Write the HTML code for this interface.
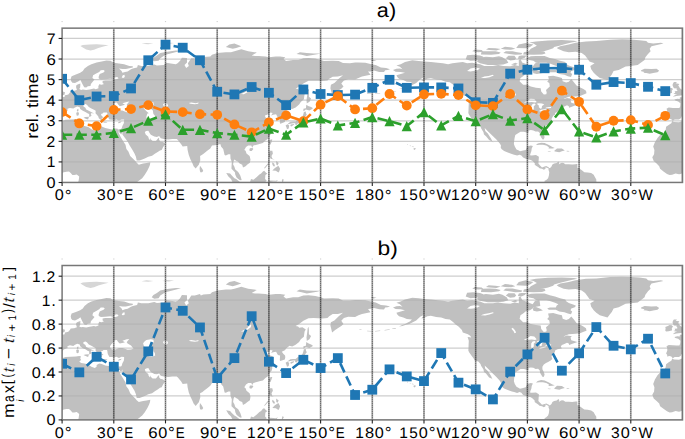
<!DOCTYPE html><html><head><meta charset="utf-8"><style>html,body{margin:0;padding:0;background:#fff;}svg{display:block;} text{text-rendering:geometricPrecision;}</style></head><body><svg width="685" height="439" viewBox="0 0 685 439"><rect width="685" height="439" fill="#fff"/><defs><g id="map"><path fill="#c0c0c0" d="M16.0 159.4L16.0 154.3L16.5 152.6L16.9 150.0L17.1 148.3L15.9 147.4L14.6 146.4L12.1 146.8L10.3 146.9L8.6 144.9L6.9 143.3L4.3 143.5L1.7 144.0L-1.7 145.7L-3.4 146.1L-6.9 145.4L-10.3 146.6L-12.9 146.8L-15.5 145.7L-19.0 143.2L-22.4 140.6L-23.3 138.0L-25.8 135.4L-28.8 132.9L-30.2 129.1L-28.4 126.0L-28.1 121.7L-29.3 118.3L-27.6 114.0L-25.0 109.7L-22.4 106.8L-19.0 105.4L-16.9 102.0L-16.4 98.6L-13.8 96.7L-11.2 95.1L-10.2 92.9L-8.6 93.8L-3.4 94.1L0.0 92.7L3.4 91.5L8.6 91.2L13.8 91.0L17.2 90.3L19.0 90.9L18.1 92.6L19.0 94.3L17.2 96.0L19.0 97.4L22.4 97.9L26.2 98.9L29.3 101.1L32.7 102.3L34.5 101.1L34.5 99.4L37.1 97.9L39.6 98.4L43.1 99.8L46.5 100.5L50.0 101.3L53.4 100.3L55.7 100.6L56.0 102.9L56.9 105.4L58.6 108.9L61.2 113.2L63.4 116.6L64.3 120.9L66.3 123.4L68.1 127.7L70.7 130.3L73.2 132.9L74.6 134.6L76.7 136.5L81.0 135.3L84.4 134.9L88.2 134.1L87.9 136.5L87.0 138.9L85.3 142.3L82.7 146.6L80.1 150.0L76.7 152.6L73.2 155.2L72.4 159.4ZM636.4 159.4L636.4 154.3L636.9 152.6L637.3 150.0L637.4 148.3L636.2 147.4L635.0 146.4L632.5 146.8L630.7 146.9L629.0 144.9L627.3 143.3L624.7 143.5L622.1 144.0L618.7 145.7L616.9 146.1L613.5 145.4L610.0 146.6L607.5 146.8L604.9 145.7L601.4 143.2L598.0 140.6L597.1 138.0L594.5 135.4L591.6 132.9L590.2 129.1L592.0 126.0L592.3 121.7L591.1 118.3L592.8 114.0L595.4 109.7L598.0 106.8L601.4 105.4L603.5 102.0L604.0 98.6L606.6 96.7L609.2 95.1L610.2 92.9L611.8 93.8L616.9 94.1L620.4 92.7L623.8 91.5L629.0 91.2L634.2 91.0L637.6 90.3L639.3 90.9L638.5 92.6L639.3 94.3L637.6 96.0L639.3 97.4L642.8 97.9L646.6 98.9L649.7 101.1L653.1 102.3L654.9 101.1L654.9 99.4L657.4 97.9L660.0 98.4L663.5 99.8L666.9 100.5L670.4 101.3L673.8 100.3L676.1 100.6L676.4 102.9L677.3 105.4L679.0 108.9L681.6 113.2L683.8 116.6L684.7 120.9L686.7 123.4L688.5 127.7L691.0 130.3L693.6 132.9L695.0 134.6L697.1 136.5L701.4 135.3L704.8 134.9L708.6 134.1L708.3 136.5L707.4 138.9L705.7 142.3L703.1 146.6L700.5 150.0L697.1 152.6L693.6 155.2L692.8 159.4ZM56.0 102.9L59.1 106.3L60.3 103.7L60.3 106.3L62.9 109.7L65.5 113.2L67.6 117.4L69.8 120.9L72.4 125.2L73.8 128.6L74.6 132.4L77.5 132.4L82.7 130.3L86.2 128.6L90.0 127.6L93.1 125.3L95.6 123.8L97.9 122.2L99.6 121.7L100.8 119.2L103.1 115.7L101.0 113.8L98.2 113.2L97.0 111.6L97.0 109.4L95.6 110.6L93.9 112.8L90.5 112.8L88.9 111.4L88.7 109.6L87.9 112.0L86.5 110.1L86.2 108.5L83.6 106.3L82.7 103.7L84.1 102.9L86.2 102.5L87.5 104.7L88.7 106.5L92.2 108.4L94.8 108.7L97.0 107.8L98.7 110.1L101.7 110.8L106.0 111.3L110.3 110.9L114.6 110.8L115.8 111.8L117.2 113.7L118.9 115.7L120.6 118.3L125.1 117.8L125.5 121.7L126.7 126.9L128.4 131.2L130.1 134.6L131.5 138.0L133.6 140.4L134.8 138.9L136.7 136.6L138.2 132.0L138.0 127.7L140.4 126.4L141.8 125.2L144.8 122.9L148.2 120.2L149.9 117.4L152.5 117.1L155.1 116.8L158.2 115.9L159.1 118.6L161.1 120.9L162.5 126.9L163.7 127.2L166.3 126.0L168.2 126.0L168.4 130.3L169.7 133.7L169.4 138.9L169.4 140.6L172.8 144.0L173.2 146.6L174.6 149.5L177.5 151.7L178.9 152.1L179.6 151.7L178.2 147.4L176.1 143.7L173.2 141.4L172.2 138.4L171.0 136.3L171.5 132.9L172.5 131.2L173.9 132.5L175.8 133.4L177.5 135.4L180.1 136.5L180.9 139.4L183.5 138.0L185.3 136.3L187.8 134.6L188.4 131.2L187.5 127.7L184.4 125.2L183.5 122.6L182.2 121.7L183.9 118.8L186.1 117.4L189.2 117.4L190.1 119.5L191.3 117.4L195.6 116.2L197.3 115.7L200.8 114.9L203.3 112.3L205.9 110.6L206.8 108.0L209.4 105.4L210.2 102.9L209.9 100.3L208.2 98.6L207.7 96.0L205.6 94.3L207.7 92.6L211.1 90.9L208.5 89.8L205.1 90.5L203.3 89.1L202.8 87.4L205.1 86.6L208.5 84.3L210.6 84.9L209.0 87.4L211.1 86.6L214.0 86.1L215.8 89.5L218.0 90.0L217.7 94.3L218.0 95.5L219.7 95.0L222.7 93.9L223.2 91.7L223.0 90.0L221.4 88.3L219.7 86.1L223.2 84.3L223.7 83.1L225.2 81.8L227.5 80.2L230.1 80.9L233.5 79.2L237.0 76.3L238.7 73.7L241.8 71.1L242.1 68.6L242.5 66.0L243.7 63.8L240.4 61.7L237.0 62.1L236.1 60.9L233.5 60.5L237.0 58.3L241.3 55.2L246.4 52.6L251.6 52.5L255.9 52.6L260.2 52.8L265.4 52.3L267.1 50.6L270.6 48.5L275.7 48.3L280.9 47.1L276.6 50.6L272.3 54.9L268.8 56.6L268.3 60.0L269.4 64.3L270.0 66.9L273.1 64.3L275.7 62.6L279.2 60.5L281.4 58.3L279.2 55.2L281.8 52.3L286.1 51.1L293.0 51.4L296.4 49.7L299.9 48.3L305.9 47.1L308.5 46.6L305.9 43.4L308.5 43.2L311.9 42.3L317.1 43.7L321.9 43.9L323.1 42.0L325.7 41.7L327.9 41.0L324.0 39.8L318.8 39.4L313.6 36.9L310.2 36.2L303.3 34.6L296.4 34.3L293.0 34.3L287.8 35.0L280.9 34.8L276.6 32.9L270.6 32.6L261.9 32.9L258.5 31.7L253.3 30.3L246.4 29.7L241.3 30.0L236.1 31.7L230.9 31.7L224.0 32.9L221.4 30.9L223.2 29.1L218.0 28.3L213.7 28.3L206.8 29.1L203.3 28.3L196.5 27.9L193.0 27.8L189.6 27.4L194.7 24.3L186.1 23.1L179.2 21.1L172.3 23.1L168.9 24.0L163.7 24.0L155.1 24.9L149.9 26.6L148.2 28.3L141.3 28.8L138.7 30.0L137.9 28.3L132.7 30.0L129.2 30.0L127.5 32.6L125.8 35.1L126.7 37.7L124.1 39.8L122.4 36.9L124.9 34.3L124.9 29.7L119.8 29.5L118.0 32.6L115.5 35.1L113.7 36.0L110.3 35.5L104.3 34.6L101.7 36.9L94.8 37.4L92.2 36.3L86.2 37.7L79.3 37.7L75.8 36.9L75.0 39.4L70.7 40.3L68.9 41.1L65.5 43.2L62.9 43.7L60.3 44.6L59.5 42.9L56.9 40.3L60.3 40.8L63.8 40.8L70.7 39.4L70.7 38.1L67.2 37.7L62.0 36.0L56.9 35.3L51.7 34.6L48.3 32.6L44.3 32.4L39.6 33.4L34.5 34.3L29.3 36.0L25.8 37.7L22.4 40.3L20.7 42.9L18.1 44.6L13.8 46.3L9.5 48.0L8.6 50.6L9.1 53.1L10.3 54.5L12.9 54.9L16.4 53.1L18.3 51.6L19.0 53.1L19.8 54.9L20.7 56.6L22.1 59.0L24.1 59.3L25.8 58.1L28.4 57.8L28.8 55.7L31.0 53.1L32.4 51.4L30.3 49.7L31.0 47.1L34.1 45.4L37.1 43.7L38.6 42.0L41.4 41.8L42.7 42.9L41.4 44.2L37.6 45.9L36.5 48.9L36.7 50.4L38.8 51.4L43.1 51.1L48.3 50.6L52.2 51.6L48.3 52.3L43.1 52.3L40.5 52.8L40.5 54.9L41.9 55.7L39.6 56.6L37.1 56.1L36.2 58.3L36.4 60.0L33.6 61.0L31.9 60.3L27.6 61.2L24.1 61.9L20.7 61.4L19.0 61.7L17.2 60.9L18.1 59.1L18.3 55.4L15.5 56.4L14.1 57.4L14.0 59.1L14.8 61.7L12.1 62.6L8.6 62.9L7.8 64.3L6.2 66.2L4.3 66.7L2.8 67.0L2.6 68.6L0.3 69.1L-2.6 69.1L-2.8 70.8L-5.2 70.6L-8.1 71.3L-7.2 72.3L-4.3 73.2L-2.1 75.1L-2.2 78.0L-3.1 79.9L-6.0 79.9L-9.5 79.7L-13.8 79.4L-16.0 80.6L-15.3 82.3L-15.2 84.9L-16.4 87.9L-15.2 89.3L-15.5 90.9L-12.9 90.5L-11.2 91.0L-9.7 92.6L-7.8 91.4L-3.4 91.4L-1.4 89.8L-0.9 88.3L0.3 87.8L-0.5 86.6L1.6 84.0L5.5 82.5L5.3 80.6L7.8 79.7L11.2 80.4L12.9 79.2L15.2 78.2L17.6 79.0L18.1 80.7L20.7 82.6L23.3 83.7L25.8 85.4L27.1 85.7L27.1 88.8L28.4 88.3L29.5 87.4L28.6 85.7L29.6 84.9L31.9 85.5L31.0 84.7L27.6 83.1L24.1 81.4L23.3 79.5L21.2 78.0L21.4 76.5L23.6 75.9L25.0 76.8L26.7 78.9L29.3 80.2L31.9 81.6L33.6 82.6L33.4 85.0L34.8 86.6L36.2 88.3L36.7 90.0L38.8 91.9L40.0 91.7L39.6 90.0L41.4 89.1L39.6 87.8L38.9 85.7L40.5 85.4L41.4 84.3L44.8 84.3L45.3 85.5L47.4 84.9L50.0 83.7L48.3 82.3L47.9 80.6L49.1 78.9L50.8 77.1L52.6 74.6L54.8 74.4L56.0 76.3L57.7 78.0L61.2 77.1L62.9 76.6L60.3 75.1L64.6 73.7L67.2 73.4L65.5 75.4L64.6 76.6L65.5 78.0L68.9 79.9L71.5 83.1L68.9 84.0L65.5 84.2L62.0 83.0L60.3 82.3L56.9 82.3L53.4 83.8L50.0 84.0L46.5 85.0L45.2 85.7L45.7 88.3L46.5 90.0L47.4 91.4L50.0 91.5L52.6 91.7L54.3 91.2L56.9 92.4L59.5 91.2L62.0 91.4L62.0 92.9L61.7 95.1L60.3 97.7L59.5 100.3L58.6 100.8L56.2 101.0ZM676.4 102.9L679.5 106.3L680.7 103.7L680.7 106.3L683.3 109.7L685.9 113.2L687.9 117.4L690.2 120.9L692.8 125.2L694.1 128.6L695.0 132.4L697.9 132.4L703.1 130.3L706.6 128.6L710.3 127.6L713.4 125.3L716.0 123.8L718.3 122.2L720.0 121.7L721.2 119.2L723.4 115.7L721.4 113.8L718.6 113.2L717.4 111.6L717.4 109.4L716.0 110.6L714.3 112.8L710.9 112.8L709.3 111.4L709.1 109.6L708.3 112.0L706.9 110.1L706.6 108.5L704.0 106.3L703.1 103.7L704.5 102.9L706.6 102.5L707.9 104.7L709.1 106.5L712.6 108.4L715.2 108.7L717.4 107.8L719.1 110.1L722.1 110.8L726.4 111.3L730.7 110.9L735.0 110.8L736.2 111.8L737.6 113.7L739.3 115.7L741.0 118.3L745.5 117.8L745.8 121.7L747.1 126.9L748.8 131.2L750.5 134.6L751.9 138.0L753.9 140.4L755.2 138.9L757.0 136.6L758.6 132.0L758.4 127.7L760.8 126.4L762.2 125.2L765.1 122.9L768.6 120.2L770.3 117.4L772.9 117.1L775.5 116.8L778.6 115.9L779.4 118.6L781.5 120.9L782.9 126.9L784.1 127.2L786.7 126.0L788.6 126.0L788.8 130.3L790.1 133.7L789.8 138.9L789.8 140.6L793.2 144.0L793.6 146.6L795.0 149.5L797.9 151.7L799.3 152.1L800.0 151.7L798.6 147.4L796.5 143.7L793.6 141.4L792.5 138.4L791.3 136.3L791.9 132.9L792.9 131.2L794.3 132.5L796.2 133.4L797.9 135.4L800.5 136.5L801.3 139.4L803.9 138.0L805.6 136.3L808.2 134.6L808.7 131.2L807.9 127.7L804.8 125.2L803.9 122.6L802.5 121.7L804.3 118.8L806.5 117.4L809.6 117.4L810.5 119.5L811.7 117.4L816.0 116.2L817.7 115.7L821.2 114.9L823.7 112.3L826.3 110.6L827.2 108.0L829.8 105.4L830.6 102.9L830.3 100.3L828.6 98.6L828.0 96.0L826.0 94.3L828.0 92.6L831.5 90.9L828.9 89.8L825.5 90.5L823.7 89.1L823.2 87.4L825.5 86.6L828.9 84.3L831.0 84.9L829.4 87.4L831.5 86.6L834.4 86.1L836.1 89.5L838.4 90.0L838.0 94.3L838.4 95.5L840.1 95.0L843.0 93.9L843.6 91.7L843.4 90.0L841.8 88.3L840.1 86.1L843.6 84.3L844.1 83.1L845.6 81.8L847.9 80.2L850.4 80.9L853.9 79.2L857.3 76.3L859.1 73.7L862.2 71.1L862.5 68.6L862.9 66.0L864.1 63.8L860.8 61.7L857.3 62.1L856.5 60.9L853.9 60.5L857.3 58.3L861.6 55.2L866.8 52.6L872.0 52.5L876.3 52.6L880.6 52.8L885.8 52.3L887.5 50.6L890.9 48.5L896.1 48.3L901.3 47.1L897.0 50.6L892.7 54.9L889.2 56.6L888.7 60.0L889.7 64.3L890.4 66.9L893.5 64.3L896.1 62.6L899.6 60.5L901.8 58.3L899.6 55.2L902.1 52.3L906.5 51.1L913.3 51.4L916.8 49.7L920.2 48.3L926.3 47.1L928.9 46.6L926.3 43.4L928.9 43.2L932.3 42.3L937.5 43.7L942.3 43.9L943.5 42.0L946.1 41.7L948.3 41.0L944.4 39.8L939.2 39.4L934.0 36.9L930.6 36.2L923.7 34.6L916.8 34.3L913.3 34.3L908.2 35.0L901.3 34.8L897.0 32.9L890.9 32.6L882.3 32.9L878.9 31.7L873.7 30.3L866.8 29.7L861.6 30.0L856.5 31.7L851.3 31.7L844.4 32.9L841.8 30.9L843.6 29.1L838.4 28.3L834.1 28.3L827.2 29.1L823.7 28.3L816.8 27.9L813.4 27.8L810.0 27.4L815.1 24.3L806.5 23.1L799.6 21.1L792.7 23.1L789.3 24.0L784.1 24.0L775.5 24.9L770.3 26.6L768.6 28.3L761.7 28.8L759.1 30.0L758.3 28.3L753.1 30.0L749.6 30.0L747.9 32.6L746.2 35.1L747.1 37.7L744.5 39.8L742.7 36.9L745.3 34.3L745.3 29.7L740.2 29.5L738.4 32.6L735.8 35.1L734.1 36.0L730.7 35.5L724.6 34.6L722.1 36.9L715.2 37.4L712.6 36.3L706.6 37.7L699.7 37.7L696.2 36.9L695.4 39.4L691.0 40.3L689.3 41.1L685.9 43.2L683.3 43.7L680.7 44.6L679.8 42.9L677.3 40.3L680.7 40.8L684.2 40.8L691.0 39.4L691.0 38.1L687.6 37.7L682.4 36.0L677.3 35.3L672.1 34.6L668.6 32.6L664.7 32.4L660.0 33.4L654.9 34.3L649.7 36.0L646.2 37.7L642.8 40.3L641.1 42.9L638.5 44.6L634.2 46.3L629.9 48.0L629.0 50.6L629.5 53.1L630.7 54.5L633.3 54.9L636.8 53.1L638.7 51.6L639.3 53.1L640.2 54.9L641.1 56.6L642.4 59.0L644.5 59.3L646.2 58.1L648.8 57.8L649.2 55.7L651.4 53.1L652.8 51.4L650.7 49.7L651.4 47.1L654.5 45.4L657.4 43.7L659.0 42.0L661.7 41.8L663.1 42.9L661.7 44.2L658.0 45.9L656.9 48.9L657.1 50.4L659.2 51.4L663.5 51.1L668.6 50.6L672.6 51.6L668.6 52.3L663.5 52.3L660.9 52.8L660.9 54.9L662.3 55.7L660.0 56.6L657.4 56.1L656.6 58.3L656.7 60.0L654.0 61.0L652.3 60.3L648.0 61.2L644.5 61.9L641.1 61.4L639.3 61.7L637.6 60.9L638.5 59.1L638.7 55.4L635.9 56.4L634.5 57.4L634.3 59.1L635.2 61.7L632.5 62.6L629.0 62.9L628.1 64.3L626.6 66.2L624.7 66.7L623.1 67.0L623.0 68.6L620.7 69.1L617.8 69.1L617.6 70.8L615.2 70.6L612.3 71.3L613.2 72.3L616.1 73.2L618.3 75.1L618.1 78.0L617.3 79.9L614.4 79.9L610.9 79.7L606.6 79.4L604.4 80.6L605.1 82.3L605.2 84.9L604.0 87.9L605.2 89.3L604.9 90.9L607.5 90.5L609.2 91.0L610.7 92.6L612.6 91.4L616.9 91.4L619.0 89.8L619.5 88.3L620.7 87.8L619.9 86.6L621.9 84.0L625.9 82.5L625.7 80.6L628.1 79.7L631.6 80.4L633.3 79.2L635.6 78.2L638.0 79.0L638.5 80.7L641.1 82.6L643.7 83.7L646.2 85.4L647.4 85.7L647.4 88.8L648.8 88.3L649.9 87.4L649.0 85.7L650.0 84.9L652.3 85.5L651.4 84.7L648.0 83.1L644.5 81.4L643.7 79.5L641.6 78.0L641.8 76.5L644.0 75.9L645.4 76.8L647.1 78.9L649.7 80.2L652.3 81.6L654.0 82.6L653.8 85.0L655.2 86.6L656.6 88.3L657.1 90.0L659.2 91.9L660.4 91.7L660.0 90.0L661.7 89.1L660.0 87.8L659.3 85.7L660.9 85.4L661.7 84.3L665.2 84.3L665.7 85.5L667.8 84.9L670.4 83.7L668.6 82.3L668.3 80.6L669.5 78.9L671.2 77.1L672.9 74.6L675.2 74.4L676.4 76.3L678.1 78.0L681.6 77.1L683.3 76.6L680.7 75.1L685.0 73.7L687.6 73.4L685.9 75.4L685.0 76.6L685.9 78.0L689.3 79.9L691.9 83.1L689.3 84.0L685.9 84.2L682.4 83.0L680.7 82.3L677.3 82.3L673.8 83.8L670.4 84.0L666.9 85.0L665.5 85.7L666.1 88.3L666.9 90.0L667.8 91.4L670.4 91.5L672.9 91.7L674.7 91.2L677.3 92.4L679.8 91.2L682.4 91.4L682.4 92.9L682.1 95.1L680.7 97.7L679.8 100.3L679.0 100.8L676.6 101.0ZM481.7 159.4L482.4 154.3L482.5 152.6L484.2 151.7L486.0 150.0L486.8 147.4L487.2 144.0L486.3 141.4L487.0 139.7L488.0 139.7L489.4 138.4L490.3 136.3L492.0 135.4L494.6 134.9L496.3 133.4L497.2 134.6L496.7 136.3L498.0 135.4L499.8 134.6L501.5 134.8L503.2 136.1L506.7 136.1L510.1 136.3L513.5 136.0L515.3 137.2L515.3 139.7L516.1 139.7L518.7 141.4L520.4 142.6L522.2 144.0L525.6 144.2L529.1 144.9L531.6 146.6L532.5 148.3L534.2 151.2L534.2 153.4L535.9 155.2L537.7 159.4ZM487.0 140.8L486.0 140.1L483.4 139.0L483.4 140.6L481.8 141.6L479.9 140.6L477.4 140.1L476.1 138.9L473.9 137.5L472.5 136.3L472.7 135.1L470.5 132.9L468.7 131.7L466.2 131.2L463.6 130.5L461.0 129.4L459.3 127.2L457.5 126.5L455.0 127.4L452.0 126.5L449.8 125.8L446.3 124.6L442.0 122.9L439.4 120.9L438.6 119.2L438.9 117.4L437.7 115.2L434.3 111.4L431.7 108.9L429.1 106.3L426.5 103.7L422.6 99.8L423.1 102.9L425.7 105.4L427.4 108.0L429.1 110.6L430.0 112.8L431.7 114.9L430.0 113.2L427.0 111.8L423.9 108.0L421.9 106.3L421.3 103.7L419.1 100.3L418.4 98.4L416.2 96.0L412.6 95.0L411.9 93.3L409.3 90.0L407.0 86.6L406.2 84.9L406.4 82.3L406.5 78.9L406.7 75.1L405.5 71.3L408.4 71.7L409.3 72.9L408.4 70.3L405.8 68.6L400.7 66.9L399.8 64.3L396.4 60.9L393.8 59.1L391.2 56.6L387.7 54.0L383.4 53.5L379.1 51.8L374.0 51.4L368.8 50.1L365.3 50.6L361.9 52.3L359.3 52.8L361.9 49.4L358.4 50.9L355.9 53.1L354.1 54.9L350.7 56.6L347.2 58.3L343.8 59.1L340.4 60.3L336.9 60.9L339.5 59.7L342.9 58.3L348.1 55.7L349.8 53.8L344.7 53.5L341.2 51.8L336.9 50.6L335.2 48.9L334.3 47.1L336.9 46.3L342.9 44.6L338.6 43.7L333.5 43.5L330.9 41.8L334.3 40.6L337.8 40.3L340.4 41.1L337.8 38.6L334.3 37.2L338.6 36.0L342.9 33.8L350.2 32.1L356.7 32.7L361.9 33.4L368.8 33.9L375.7 34.6L380.8 35.1L386.0 36.0L390.3 35.1L396.4 34.3L400.7 33.8L405.0 35.1L410.1 34.6L417.9 36.0L422.2 37.7L430.8 37.7L436.0 36.9L441.2 37.7L448.1 38.1L452.4 36.9L456.7 37.7L456.7 31.7L458.4 30.9L460.1 34.3L465.3 36.3L470.5 38.6L473.0 35.1L477.4 34.3L478.2 40.3L473.9 41.1L470.5 42.9L467.9 44.6L464.1 45.4L461.0 48.0L458.4 49.7L457.5 53.1L461.0 56.6L465.3 56.6L468.7 58.3L473.9 59.5L478.6 60.0L479.1 63.4L481.7 66.3L484.2 66.0L484.6 64.3L483.9 61.7L487.7 58.3L487.2 54.9L485.1 53.5L486.8 51.4L486.0 48.0L491.1 47.5L496.3 48.9L499.8 49.7L500.6 53.1L504.1 54.3L506.7 53.5L509.2 50.9L511.8 54.0L514.4 57.4L518.7 59.5L521.3 60.9L523.9 62.6L524.4 65.1L522.2 66.0L517.9 67.7L513.5 68.2L506.7 68.6L502.3 70.3L498.9 73.7L501.5 71.1L504.9 69.9L509.8 70.6L508.4 72.0L509.2 74.6L513.5 75.8L515.3 76.3L517.0 75.8L511.0 78.0L507.0 79.5L506.7 78.0L504.9 77.1L502.3 78.3L499.8 79.4L498.7 80.9L499.8 82.8L498.0 83.1L495.4 83.7L492.9 84.9L492.9 86.6L491.1 87.6L490.3 89.1L489.4 90.9L490.3 93.4L488.6 94.8L486.0 96.3L483.9 97.4L481.7 98.9L480.3 101.1L480.3 103.7L481.7 106.3L482.5 108.9L481.8 111.1L480.6 111.3L479.4 109.7L477.9 107.1L477.7 104.9L476.0 103.2L473.4 103.4L471.3 102.2L468.7 101.8L466.2 102.5L466.7 104.2L464.4 104.2L461.8 103.5L458.4 103.5L456.7 104.6L453.2 106.8L452.5 109.7L452.0 113.2L451.8 115.7L452.7 118.3L454.4 121.2L456.7 122.4L457.9 123.1L461.0 122.4L463.6 121.7L464.6 120.0L464.8 118.3L468.7 117.4L470.8 117.8L469.6 120.4L469.3 122.9L468.4 125.2L467.9 127.0L469.6 127.2L473.9 126.9L476.8 128.6L476.5 132.9L476.3 135.4L478.2 137.5L479.9 139.2L482.5 138.4L484.2 137.8L486.8 139.2L487.0 139.7ZM545.4 51.8L537.7 49.7L534.2 47.1L531.6 44.6L529.1 41.1L528.2 37.7L532.5 35.1L527.3 33.4L525.6 30.9L523.0 27.4L519.6 24.9L513.5 23.5L506.7 24.0L501.5 23.1L496.3 20.9L494.6 19.7L498.0 18.0L506.7 16.3L513.5 14.6L523.9 13.2L534.2 12.9L548.0 11.5L560.1 11.1L568.7 11.3L577.3 12.0L584.2 12.9L585.9 14.6L591.1 15.4L598.8 14.6L601.4 15.4L589.4 18.0L587.6 20.6L588.5 23.1L585.9 25.7L583.3 29.1L582.5 31.7L579.0 34.3L575.6 36.9L568.7 37.7L563.5 38.2L556.6 41.7L551.5 42.9L549.7 46.3L547.1 49.7ZM579.0 42.0L582.5 40.5L589.4 40.8L594.5 40.6L597.1 42.5L595.4 44.1L591.1 44.9L587.6 45.6L584.2 44.9L581.3 44.7L582.5 43.7L579.0 43.0ZM-9.8 68.6L-6.0 67.9L-1.7 67.4L2.4 66.5L2.9 64.1L0.5 63.3L0.0 62.4L-0.9 61.2L-2.6 60.0L-3.4 58.3L-4.3 57.3L-3.1 55.7L-5.5 55.4L-6.9 55.0L-5.3 53.8L-8.6 53.8L-9.5 55.2L-10.0 56.7L-9.5 58.3L-8.6 60.0L-5.5 60.2L-6.2 61.0L-5.2 61.9L-5.2 62.9L-7.9 63.1L-7.2 64.6L-9.1 65.5L-6.9 66.0L-5.2 66.2L-7.4 66.7ZM610.6 68.6L614.4 67.9L618.7 67.4L622.8 66.5L623.3 64.1L620.9 63.3L620.4 62.4L619.5 61.2L617.8 60.0L616.9 58.3L616.1 57.3L617.3 55.7L614.9 55.4L613.5 55.0L615.0 53.8L611.8 53.8L610.9 55.2L610.4 56.7L610.9 58.3L611.8 60.0L614.9 60.2L614.2 61.0L615.2 61.9L615.2 62.9L612.5 63.1L613.2 64.6L611.3 65.5L613.5 66.0L615.2 66.2L613.0 66.7ZM610.0 64.8L609.7 62.6L610.9 60.9L609.7 59.7L607.5 59.5L605.7 60.5L603.2 61.4L603.5 62.6L603.2 65.1L604.0 66.0L606.6 65.7L609.4 64.8ZM223.5 97.2L225.4 96.0L227.1 97.4L226.6 100.3L224.9 101.1L224.4 99.4ZM228.3 97.7L228.5 96.3L231.8 95.7L232.1 96.3L229.2 98.2ZM225.8 95.5L228.3 93.6L230.9 93.4L233.5 93.3L234.4 92.6L236.1 91.2L238.7 90.0L240.4 88.3L241.3 85.7L241.8 83.7L243.8 83.3L243.8 84.9L244.7 86.6L243.0 88.6L243.0 90.9L242.5 92.9L241.3 94.3L240.4 93.8L239.2 94.8L237.0 95.0L235.7 95.3L234.4 96.9L233.0 96.3L233.2 95.0L230.9 95.0L228.3 95.5L225.8 96.0ZM241.3 83.1L241.3 80.6L243.8 80.1L244.2 76.5L246.1 77.7L249.0 78.9L250.7 79.9L250.4 80.6L247.3 82.3L243.8 81.4L242.1 82.6ZM244.7 75.4L244.4 72.0L245.1 66.9L245.6 62.6L246.4 61.2L246.8 64.3L246.8 68.6L249.0 70.3L247.3 73.7L245.7 74.6ZM207.1 115.7L206.8 114.0L208.5 111.4L210.2 111.4L209.4 114.0L208.3 116.6ZM187.2 121.7L187.8 120.0L190.4 119.8L191.3 120.9L189.6 122.9L187.8 122.9ZM206.8 126.9L207.7 122.6L210.2 122.6L210.8 125.2L209.4 127.7L210.2 130.3L213.7 132.0L212.0 131.2L208.5 130.6L207.8 129.4L206.8 128.6ZM210.2 142.3L212.8 139.7L216.3 137.5L218.0 140.6L217.1 143.2L216.3 144.4L213.7 142.6ZM214.0 132.9L216.6 134.9L215.4 137.2L214.2 136.3ZM210.2 134.1L212.0 135.4L212.8 137.2L212.0 138.5L210.8 137.2L210.1 135.8ZM202.0 139.9L206.1 134.9L206.5 135.8L202.7 140.2ZM187.8 159.4L187.8 154.3L188.9 150.9L191.3 151.6L194.7 148.8L197.3 146.4L199.0 145.4L200.8 143.2L202.1 142.6L204.2 144.9L205.4 145.4L203.3 146.9L203.0 150.9L204.7 152.6L202.5 154.3L202.5 159.4ZM164.1 144.7L168.0 145.4L169.7 147.4L172.3 150.0L174.1 150.9L176.6 152.9L178.4 154.3L179.2 159.4L172.3 159.4L170.6 154.3L168.9 150.9L166.3 148.3ZM205.9 159.4L205.9 154.3L206.8 152.9L208.5 152.2L213.7 152.6L215.8 151.7L214.6 153.4L211.1 153.4L208.2 153.8L207.7 159.4ZM219.7 152.6L220.6 150.5L221.8 151.7L220.9 152.9L221.6 154.3L220.6 155.2ZM137.5 140.6L137.9 137.5L139.6 139.7L141.1 142.3L140.4 143.7L138.7 144.2L137.9 143.2ZM55.7 94.8L56.9 93.6L59.6 93.1L58.6 94.3L56.9 95.0ZM40.5 93.8L41.7 93.3L45.3 93.8L44.8 94.3L42.6 94.5L40.5 93.9ZM21.4 89.5L23.3 88.8L26.9 88.6L26.0 91.4L24.1 90.7ZM14.5 87.4L14.1 84.5L15.9 83.7L16.9 84.9L16.5 87.1L15.3 87.6ZM14.8 83.1L14.8 81.6L16.2 80.6L16.4 82.3L15.9 83.3ZM89.6 31.7L91.3 29.5L94.8 27.4L98.2 24.9L105.1 23.5L113.7 22.3L118.9 22.6L110.3 24.9L103.4 26.6L98.2 30.0L96.5 32.6L92.2 33.1ZM163.7 18.9L167.2 16.3L172.3 15.4L179.2 18.0L174.1 19.7L170.6 20.6ZM234.4 25.7L237.8 24.0L244.7 24.9L251.6 25.2L258.5 25.2L255.0 26.1L244.7 27.8L239.5 26.6ZM308.5 32.2L311.1 31.5L314.5 32.2L311.1 32.9ZM508.9 48.7L505.8 48.0L502.3 46.6L497.2 45.9L493.7 44.1L486.8 44.1L485.1 42.9L487.7 41.8L493.7 41.8L494.6 39.9L496.3 38.6L492.9 37.2L487.7 35.3L484.2 34.6L479.1 34.6L473.9 34.5L471.3 32.6L467.0 31.9L465.3 29.5L468.7 28.1L473.9 27.8L482.5 27.9L487.7 29.7L492.9 30.9L498.0 32.6L503.2 33.9L504.1 35.7L506.7 37.4L511.0 38.9L513.9 40.1L512.7 41.7L509.2 42.9L508.4 44.6L510.1 45.9ZM471.3 45.1L474.8 45.8L480.8 44.9L478.2 43.2L473.9 41.5L470.5 42.3ZM403.6 31.0L405.0 27.1L411.0 26.6L417.9 27.4L421.3 28.6L417.9 30.9L413.6 32.2L408.4 32.6ZM415.3 32.2L417.9 29.3L423.9 28.5L430.8 29.1L436.9 28.1L440.3 29.1L444.6 31.7L446.3 34.6L441.2 36.2L434.3 36.7L425.7 36.7L417.9 35.1L415.0 33.6ZM443.7 30.0L446.3 27.6L452.4 27.6L454.1 30.0L452.4 31.7L448.1 32.2ZM455.8 30.5L456.7 27.8L459.3 27.3L464.4 27.4L462.7 29.5L459.3 30.9ZM448.9 36.2L453.2 34.5L455.8 35.5L453.2 36.7ZM418.8 26.4L419.6 23.1L427.4 23.0L433.4 23.1L438.6 24.3L436.9 25.7L429.1 26.6ZM410.1 23.1L412.7 21.4L419.6 21.9L421.3 23.5L416.2 24.0ZM423.9 21.4L426.5 19.7L433.4 20.1L438.6 20.9L434.3 22.3L427.4 21.9ZM441.2 24.9L443.7 23.0L450.6 23.0L455.0 24.0L460.1 24.9L459.3 26.4L453.2 26.6L447.2 25.7ZM461.0 26.2L461.8 24.0L466.2 23.0L475.6 22.6L482.5 23.5L483.4 25.2L479.9 26.4L471.3 26.6ZM438.6 20.6L442.9 18.5L449.8 19.2L453.2 20.6L448.9 21.6L442.9 21.4ZM454.1 19.7L456.7 16.3L463.6 14.7L471.3 16.3L467.9 18.9L463.6 20.1ZM466.2 23.5L468.7 20.6L474.8 17.5L471.3 15.4L467.0 14.4L473.9 13.2L486.0 12.2L499.8 11.8L511.8 12.5L515.3 13.2L509.2 14.4L503.2 15.9L497.2 17.5L492.0 18.9L491.1 20.1L486.0 21.8L481.7 23.0L473.9 23.5ZM473.9 116.9L475.6 115.4L479.1 114.5L482.5 114.9L486.8 116.9L490.3 118.8L492.7 119.7L490.3 120.2L486.5 120.4L486.8 119.0L484.2 117.4L480.8 116.6L477.4 116.6L474.8 116.8ZM492.0 122.8L494.9 120.2L499.8 120.4L502.7 122.4L499.8 123.1L497.2 124.1L492.9 123.3ZM485.5 122.9L488.9 123.1L488.0 123.6L486.0 123.4ZM504.6 122.6L507.3 122.9L507.0 123.4L504.6 123.4ZM513.7 135.8L515.3 135.8L515.3 137.0L513.7 137.0ZM333.5 62.7L330.0 62.9L330.4 63.4L333.8 63.3ZM327.4 63.6L322.3 64.5L322.6 65.0L327.8 64.1ZM317.9 64.8L312.8 65.3L313.1 65.8L318.3 65.3ZM305.0 65.1L309.3 65.3L309.2 65.8L305.0 65.7ZM297.3 63.4L299.5 63.6L299.3 64.1L297.3 63.9ZM351.6 120.0L353.3 119.7L353.6 120.9L352.1 121.9L351.4 120.9ZM349.5 118.0L351.6 118.3L351.4 119.0L350.2 118.6ZM347.6 117.3L348.6 117.3L348.6 118.0L347.8 117.8ZM345.0 116.2L345.9 116.2L345.7 116.8L345.0 116.8Z"/><path fill="#d6d6d6" d="M18.3 17.8L20.7 16.8L27.6 16.3L34.5 16.1L41.4 16.6L46.5 17.1L41.4 18.3L36.2 19.9L31.9 21.6L28.4 22.3L24.1 21.3L20.7 19.4ZM79.3 15.6L84.4 14.7L91.3 15.4L86.2 16.1ZM100.0 15.4L105.1 14.4L112.0 14.9L106.8 15.9Z"/><path fill="#fff" d="M84.4 74.4L88.7 73.7L91.3 74.1L91.7 76.6L88.2 78.0L88.7 80.6L90.8 82.3L91.0 84.0L91.3 85.7L92.7 87.4L93.1 90.0L89.6 91.4L87.0 90.9L84.4 89.8L84.3 88.3L85.3 85.4L86.7 85.0L84.4 83.1L82.7 81.4L81.9 80.6L81.0 78.0L81.9 76.3L83.6 74.9ZM461.7 74.2L466.2 72.0L468.4 70.5L472.2 70.8L474.6 73.7L473.0 74.4L469.6 73.9L464.4 74.4ZM468.9 82.8L470.5 82.8L471.7 80.6L471.7 78.0L473.6 76.3L472.5 75.4L470.5 75.9L469.1 78.0L469.1 80.6ZM474.6 75.6L476.5 75.1L479.9 75.4L482.2 76.3L479.9 77.8L479.6 80.1L478.4 80.6L476.8 79.0L476.7 77.3ZM476.7 82.8L479.1 81.6L482.5 81.1L484.4 80.9L483.7 81.6L480.8 82.6L478.2 83.3ZM482.9 80.1L484.2 79.2L486.8 78.7L489.1 78.9L488.9 79.9L486.0 80.1ZM452.4 67.7L454.1 66.9L452.7 64.3L450.6 62.1L449.3 63.1L451.5 65.7ZM418.8 49.7L422.2 48.3L426.5 47.7L430.8 46.6L431.7 47.3L427.4 49.0L423.1 49.9ZM405.0 42.9L408.4 40.3L413.6 39.4L417.9 40.3L415.3 42.0L411.0 42.9L408.4 43.2ZM178.9 65.8L181.8 66.0L185.3 64.1L188.7 61.7L189.2 58.8L187.8 59.0L185.3 62.4L181.8 64.5ZM51.4 51.1L52.6 49.2L55.1 48.7L56.5 50.1L55.1 50.9L53.4 51.4ZM59.6 49.4L60.7 47.1L62.4 46.6L62.7 48.9L61.2 49.7ZM100.8 76.3L102.5 74.9L105.1 75.4L106.0 77.5L104.3 79.2L102.0 78.5ZM126.7 74.9L129.2 74.4L133.6 75.1L136.5 74.4L136.1 75.6L132.7 76.1L128.4 75.6Z"/></g></defs><clipPath id="clip28"><rect x="62.1" y="28.15" width="620.4" height="154.35"/></clipPath><g clip-path="url(#clip28)"><use href="#map" transform="translate(62.1,28.20)"/><line x1="62.1" x2="682.5" y1="182.50" y2="182.50" stroke="#b0b0b0" stroke-opacity="0.62" stroke-width="1.25"/><line x1="62.1" x2="682.5" y1="161.92" y2="161.92" stroke="#b0b0b0" stroke-opacity="0.62" stroke-width="1.25"/><line x1="62.1" x2="682.5" y1="141.34" y2="141.34" stroke="#b0b0b0" stroke-opacity="0.62" stroke-width="1.25"/><line x1="62.1" x2="682.5" y1="120.76" y2="120.76" stroke="#b0b0b0" stroke-opacity="0.62" stroke-width="1.25"/><line x1="62.1" x2="682.5" y1="100.18" y2="100.18" stroke="#b0b0b0" stroke-opacity="0.62" stroke-width="1.25"/><line x1="62.1" x2="682.5" y1="79.60" y2="79.60" stroke="#b0b0b0" stroke-opacity="0.62" stroke-width="1.25"/><line x1="62.1" x2="682.5" y1="59.02" y2="59.02" stroke="#b0b0b0" stroke-opacity="0.62" stroke-width="1.25"/><line x1="62.1" x2="682.5" y1="38.44" y2="38.44" stroke="#b0b0b0" stroke-opacity="0.62" stroke-width="1.25"/><line x1="113.80" x2="113.80" y1="28.15" y2="182.5" stroke="#000" stroke-opacity="0.38" stroke-width="1.7"/><line x1="113.80" x2="113.80" y1="28" y2="182.5" stroke="#000" stroke-opacity="0.35" stroke-width="1" stroke-dasharray="1 1"/><line x1="165.50" x2="165.50" y1="28.15" y2="182.5" stroke="#000" stroke-opacity="0.38" stroke-width="1.7"/><line x1="165.50" x2="165.50" y1="28" y2="182.5" stroke="#000" stroke-opacity="0.35" stroke-width="1" stroke-dasharray="1 1"/><line x1="217.20" x2="217.20" y1="28.15" y2="182.5" stroke="#000" stroke-opacity="0.38" stroke-width="1.7"/><line x1="217.20" x2="217.20" y1="28" y2="182.5" stroke="#000" stroke-opacity="0.35" stroke-width="1" stroke-dasharray="1 1"/><line x1="268.90" x2="268.90" y1="28.15" y2="182.5" stroke="#000" stroke-opacity="0.38" stroke-width="1.7"/><line x1="268.90" x2="268.90" y1="28" y2="182.5" stroke="#000" stroke-opacity="0.35" stroke-width="1" stroke-dasharray="1 1"/><line x1="320.60" x2="320.60" y1="28.15" y2="182.5" stroke="#000" stroke-opacity="0.38" stroke-width="1.7"/><line x1="320.60" x2="320.60" y1="28" y2="182.5" stroke="#000" stroke-opacity="0.35" stroke-width="1" stroke-dasharray="1 1"/><line x1="372.29" x2="372.29" y1="28.15" y2="182.5" stroke="#000" stroke-opacity="0.38" stroke-width="1.7"/><line x1="372.29" x2="372.29" y1="28" y2="182.5" stroke="#000" stroke-opacity="0.35" stroke-width="1" stroke-dasharray="1 1"/><line x1="423.99" x2="423.99" y1="28.15" y2="182.5" stroke="#000" stroke-opacity="0.38" stroke-width="1.7"/><line x1="423.99" x2="423.99" y1="28" y2="182.5" stroke="#000" stroke-opacity="0.35" stroke-width="1" stroke-dasharray="1 1"/><line x1="475.69" x2="475.69" y1="28.15" y2="182.5" stroke="#000" stroke-opacity="0.38" stroke-width="1.7"/><line x1="475.69" x2="475.69" y1="28" y2="182.5" stroke="#000" stroke-opacity="0.35" stroke-width="1" stroke-dasharray="1 1"/><line x1="527.39" x2="527.39" y1="28.15" y2="182.5" stroke="#000" stroke-opacity="0.38" stroke-width="1.7"/><line x1="527.39" x2="527.39" y1="28" y2="182.5" stroke="#000" stroke-opacity="0.35" stroke-width="1" stroke-dasharray="1 1"/><line x1="579.09" x2="579.09" y1="28.15" y2="182.5" stroke="#000" stroke-opacity="0.38" stroke-width="1.7"/><line x1="579.09" x2="579.09" y1="28" y2="182.5" stroke="#000" stroke-opacity="0.35" stroke-width="1" stroke-dasharray="1 1"/><line x1="630.79" x2="630.79" y1="28.15" y2="182.5" stroke="#000" stroke-opacity="0.38" stroke-width="1.7"/><line x1="630.79" x2="630.79" y1="28" y2="182.5" stroke="#000" stroke-opacity="0.35" stroke-width="1" stroke-dasharray="1 1"/><line x1="682.49" x2="682.49" y1="28.15" y2="182.5" stroke="#000" stroke-opacity="0.38" stroke-width="1.7"/><line x1="682.49" x2="682.49" y1="28" y2="182.5" stroke="#000" stroke-opacity="0.35" stroke-width="1" stroke-dasharray="1 1"/></g><g clip-path="url(#clip28)"><polyline points="62.10,78.78 79.33,100.18 96.57,96.48 113.80,96.06 131.03,88.45 148.27,60.25 165.50,44.61 182.73,47.70 199.96,60.25 217.20,91.74 234.43,94.42 251.66,87.01 268.90,92.77 286.13,105.12 303.36,89.48 320.60,94.01 337.83,95.04 355.06,94.62 372.29,87.83 389.53,79.81 406.76,87.83 423.99,87.42 441.23,87.42 458.46,88.45 475.69,102.24 492.93,102.86 510.16,73.63 527.39,69.72 544.62,68.28 561.86,68.08 579.09,69.72 596.32,84.75 613.56,82.07 630.79,83.10 648.02,86.80 665.25,91.12" fill="none" stroke="#1f77b4" stroke-width="2.6" stroke-dasharray="10.17 4.40" stroke-linejoin="round"/><rect x="57.20" y="73.88" width="9.8" height="9.8" fill="#1f77b4"/><rect x="74.43" y="95.28" width="9.8" height="9.8" fill="#1f77b4"/><rect x="91.67" y="91.58" width="9.8" height="9.8" fill="#1f77b4"/><rect x="108.90" y="91.16" width="9.8" height="9.8" fill="#1f77b4"/><rect x="126.13" y="83.55" width="9.8" height="9.8" fill="#1f77b4"/><rect x="143.37" y="55.35" width="9.8" height="9.8" fill="#1f77b4"/><rect x="160.60" y="39.71" width="9.8" height="9.8" fill="#1f77b4"/><rect x="177.83" y="42.80" width="9.8" height="9.8" fill="#1f77b4"/><rect x="195.06" y="55.35" width="9.8" height="9.8" fill="#1f77b4"/><rect x="212.30" y="86.84" width="9.8" height="9.8" fill="#1f77b4"/><rect x="229.53" y="89.52" width="9.8" height="9.8" fill="#1f77b4"/><rect x="246.76" y="82.11" width="9.8" height="9.8" fill="#1f77b4"/><rect x="264.00" y="87.87" width="9.8" height="9.8" fill="#1f77b4"/><rect x="281.23" y="100.22" width="9.8" height="9.8" fill="#1f77b4"/><rect x="298.46" y="84.58" width="9.8" height="9.8" fill="#1f77b4"/><rect x="315.70" y="89.11" width="9.8" height="9.8" fill="#1f77b4"/><rect x="332.93" y="90.14" width="9.8" height="9.8" fill="#1f77b4"/><rect x="350.16" y="89.72" width="9.8" height="9.8" fill="#1f77b4"/><rect x="367.39" y="82.93" width="9.8" height="9.8" fill="#1f77b4"/><rect x="384.63" y="74.91" width="9.8" height="9.8" fill="#1f77b4"/><rect x="401.86" y="82.93" width="9.8" height="9.8" fill="#1f77b4"/><rect x="419.09" y="82.52" width="9.8" height="9.8" fill="#1f77b4"/><rect x="436.33" y="82.52" width="9.8" height="9.8" fill="#1f77b4"/><rect x="453.56" y="83.55" width="9.8" height="9.8" fill="#1f77b4"/><rect x="470.79" y="97.34" width="9.8" height="9.8" fill="#1f77b4"/><rect x="488.03" y="97.96" width="9.8" height="9.8" fill="#1f77b4"/><rect x="505.26" y="68.73" width="9.8" height="9.8" fill="#1f77b4"/><rect x="522.49" y="64.82" width="9.8" height="9.8" fill="#1f77b4"/><rect x="539.72" y="63.38" width="9.8" height="9.8" fill="#1f77b4"/><rect x="556.96" y="63.18" width="9.8" height="9.8" fill="#1f77b4"/><rect x="574.19" y="64.82" width="9.8" height="9.8" fill="#1f77b4"/><rect x="591.42" y="79.84" width="9.8" height="9.8" fill="#1f77b4"/><rect x="608.66" y="77.17" width="9.8" height="9.8" fill="#1f77b4"/><rect x="625.89" y="78.20" width="9.8" height="9.8" fill="#1f77b4"/><rect x="643.12" y="81.90" width="9.8" height="9.8" fill="#1f77b4"/><rect x="660.36" y="86.22" width="9.8" height="9.8" fill="#1f77b4"/><polyline points="62.10,112.12 79.33,123.44 96.57,126.11 113.80,109.85 131.03,109.03 148.27,105.12 165.50,111.50 182.73,112.12 199.96,114.17 217.20,114.79 234.43,124.46 251.66,132.28 268.90,122.41 286.13,115.41 303.36,121.17 320.60,104.71 337.83,96.06 355.06,109.44 372.29,108.21 389.53,94.01 406.76,105.53 423.99,94.42 441.23,93.80 458.46,95.04 475.69,105.33 492.93,106.15 510.16,94.01 527.39,109.44 544.62,115.20 561.86,90.71 579.09,101.83 596.32,126.73 613.56,120.76 630.79,120.14 648.02,124.88 665.25,115.82" fill="none" stroke="#ff7f0e" stroke-width="2.6" stroke-dasharray="10.17 4.40" stroke-linejoin="round"/><circle cx="62.10" cy="112.12" r="4.9" fill="#ff7f0e"/><circle cx="79.33" cy="123.44" r="4.9" fill="#ff7f0e"/><circle cx="96.57" cy="126.11" r="4.9" fill="#ff7f0e"/><circle cx="113.80" cy="109.85" r="4.9" fill="#ff7f0e"/><circle cx="131.03" cy="109.03" r="4.9" fill="#ff7f0e"/><circle cx="148.27" cy="105.12" r="4.9" fill="#ff7f0e"/><circle cx="165.50" cy="111.50" r="4.9" fill="#ff7f0e"/><circle cx="182.73" cy="112.12" r="4.9" fill="#ff7f0e"/><circle cx="199.96" cy="114.17" r="4.9" fill="#ff7f0e"/><circle cx="217.20" cy="114.79" r="4.9" fill="#ff7f0e"/><circle cx="234.43" cy="124.46" r="4.9" fill="#ff7f0e"/><circle cx="251.66" cy="132.28" r="4.9" fill="#ff7f0e"/><circle cx="268.90" cy="122.41" r="4.9" fill="#ff7f0e"/><circle cx="286.13" cy="115.41" r="4.9" fill="#ff7f0e"/><circle cx="303.36" cy="121.17" r="4.9" fill="#ff7f0e"/><circle cx="320.60" cy="104.71" r="4.9" fill="#ff7f0e"/><circle cx="337.83" cy="96.06" r="4.9" fill="#ff7f0e"/><circle cx="355.06" cy="109.44" r="4.9" fill="#ff7f0e"/><circle cx="372.29" cy="108.21" r="4.9" fill="#ff7f0e"/><circle cx="389.53" cy="94.01" r="4.9" fill="#ff7f0e"/><circle cx="406.76" cy="105.53" r="4.9" fill="#ff7f0e"/><circle cx="423.99" cy="94.42" r="4.9" fill="#ff7f0e"/><circle cx="441.23" cy="93.80" r="4.9" fill="#ff7f0e"/><circle cx="458.46" cy="95.04" r="4.9" fill="#ff7f0e"/><circle cx="475.69" cy="105.33" r="4.9" fill="#ff7f0e"/><circle cx="492.93" cy="106.15" r="4.9" fill="#ff7f0e"/><circle cx="510.16" cy="94.01" r="4.9" fill="#ff7f0e"/><circle cx="527.39" cy="109.44" r="4.9" fill="#ff7f0e"/><circle cx="544.62" cy="115.20" r="4.9" fill="#ff7f0e"/><circle cx="561.86" cy="90.71" r="4.9" fill="#ff7f0e"/><circle cx="579.09" cy="101.83" r="4.9" fill="#ff7f0e"/><circle cx="596.32" cy="126.73" r="4.9" fill="#ff7f0e"/><circle cx="613.56" cy="120.76" r="4.9" fill="#ff7f0e"/><circle cx="630.79" cy="120.14" r="4.9" fill="#ff7f0e"/><circle cx="648.02" cy="124.88" r="4.9" fill="#ff7f0e"/><circle cx="665.25" cy="115.82" r="4.9" fill="#ff7f0e"/><polyline points="62.10,134.75 79.33,134.75 96.57,134.75 113.80,132.90 131.03,128.17 148.27,120.76 165.50,114.38 182.73,129.82 199.96,129.82 217.20,133.11 234.43,134.75 251.66,136.61 268.90,128.58 286.13,134.75 303.36,122.41 320.60,118.50 337.83,125.49 355.06,122.82 372.29,117.06 389.53,121.17 406.76,126.11 423.99,112.12 441.23,125.49 458.46,115.82 475.69,121.17 492.93,114.17 510.16,120.55 527.39,118.08 544.62,130.23 561.86,109.03 579.09,131.46 596.32,137.43 613.56,131.46 630.79,128.58 648.02,127.76 665.25,135.17" fill="none" stroke="#2ca02c" stroke-width="2.6" stroke-dasharray="10.17 4.40" stroke-linejoin="round"/><path d="M62.10 129.66L67.20 139.85L57.00 139.85Z" fill="#2ca02c"/><path d="M79.33 129.66L84.43 139.85L74.24 139.85Z" fill="#2ca02c"/><path d="M96.57 129.66L101.66 139.85L91.47 139.85Z" fill="#2ca02c"/><path d="M113.80 127.81L118.90 138.00L108.70 138.00Z" fill="#2ca02c"/><path d="M131.03 123.07L136.13 133.26L125.94 133.26Z" fill="#2ca02c"/><path d="M148.27 115.66L153.36 125.86L143.17 125.86Z" fill="#2ca02c"/><path d="M165.50 109.28L170.59 119.48L160.40 119.48Z" fill="#2ca02c"/><path d="M182.73 124.72L187.83 134.91L177.63 134.91Z" fill="#2ca02c"/><path d="M199.96 124.72L205.06 134.91L194.87 134.91Z" fill="#2ca02c"/><path d="M217.20 128.01L222.29 138.20L212.10 138.20Z" fill="#2ca02c"/><path d="M234.43 129.66L239.53 139.85L229.33 139.85Z" fill="#2ca02c"/><path d="M251.66 131.51L256.76 141.70L246.57 141.70Z" fill="#2ca02c"/><path d="M268.90 123.48L273.99 133.68L263.80 133.68Z" fill="#2ca02c"/><path d="M286.13 129.66L291.23 139.85L281.03 139.85Z" fill="#2ca02c"/><path d="M303.36 117.31L308.46 127.50L298.27 127.50Z" fill="#2ca02c"/><path d="M320.60 113.40L325.69 123.59L315.50 123.59Z" fill="#2ca02c"/><path d="M337.83 120.40L342.92 130.59L332.73 130.59Z" fill="#2ca02c"/><path d="M355.06 117.72L360.16 127.91L349.97 127.91Z" fill="#2ca02c"/><path d="M372.29 111.96L377.39 122.15L367.20 122.15Z" fill="#2ca02c"/><path d="M389.53 116.08L394.62 126.27L384.43 126.27Z" fill="#2ca02c"/><path d="M406.76 121.01L411.86 131.21L401.66 131.21Z" fill="#2ca02c"/><path d="M423.99 107.02L429.09 117.21L418.90 117.21Z" fill="#2ca02c"/><path d="M441.23 120.40L446.32 130.59L436.13 130.59Z" fill="#2ca02c"/><path d="M458.46 110.72L463.56 120.92L453.36 120.92Z" fill="#2ca02c"/><path d="M475.69 116.08L480.79 126.27L470.60 126.27Z" fill="#2ca02c"/><path d="M492.93 109.08L498.02 119.27L487.83 119.27Z" fill="#2ca02c"/><path d="M510.16 115.46L515.25 125.65L505.06 125.65Z" fill="#2ca02c"/><path d="M527.39 112.99L532.49 123.18L522.29 123.18Z" fill="#2ca02c"/><path d="M544.62 125.13L549.72 135.32L539.53 135.32Z" fill="#2ca02c"/><path d="M561.86 103.93L566.95 114.13L556.76 114.13Z" fill="#2ca02c"/><path d="M579.09 126.37L584.19 136.56L573.99 136.56Z" fill="#2ca02c"/><path d="M596.32 132.33L601.42 142.53L591.23 142.53Z" fill="#2ca02c"/><path d="M613.56 126.37L618.65 136.56L608.46 136.56Z" fill="#2ca02c"/><path d="M630.79 123.48L635.88 133.68L625.69 133.68Z" fill="#2ca02c"/><path d="M648.02 122.66L653.12 132.85L642.93 132.85Z" fill="#2ca02c"/><path d="M665.25 130.07L670.35 140.26L660.16 140.26Z" fill="#2ca02c"/></g><clipPath id="clip265"><rect x="62.1" y="265.5" width="620.4" height="154.39999999999998"/></clipPath><g clip-path="url(#clip265)"><use href="#map" transform="translate(62.1,265.60)"/><line x1="62.1" x2="682.5" y1="419.90" y2="419.90" stroke="#b0b0b0" stroke-opacity="0.62" stroke-width="1.25"/><line x1="62.1" x2="682.5" y1="395.95" y2="395.95" stroke="#b0b0b0" stroke-opacity="0.62" stroke-width="1.25"/><line x1="62.1" x2="682.5" y1="372.00" y2="372.00" stroke="#b0b0b0" stroke-opacity="0.62" stroke-width="1.25"/><line x1="62.1" x2="682.5" y1="348.05" y2="348.05" stroke="#b0b0b0" stroke-opacity="0.62" stroke-width="1.25"/><line x1="62.1" x2="682.5" y1="324.10" y2="324.10" stroke="#b0b0b0" stroke-opacity="0.62" stroke-width="1.25"/><line x1="62.1" x2="682.5" y1="300.15" y2="300.15" stroke="#b0b0b0" stroke-opacity="0.62" stroke-width="1.25"/><line x1="62.1" x2="682.5" y1="276.20" y2="276.20" stroke="#b0b0b0" stroke-opacity="0.62" stroke-width="1.25"/><line x1="113.80" x2="113.80" y1="265.5" y2="419.9" stroke="#000" stroke-opacity="0.38" stroke-width="1.7"/><line x1="113.80" x2="113.80" y1="265" y2="419.9" stroke="#000" stroke-opacity="0.35" stroke-width="1" stroke-dasharray="1 1"/><line x1="165.50" x2="165.50" y1="265.5" y2="419.9" stroke="#000" stroke-opacity="0.38" stroke-width="1.7"/><line x1="165.50" x2="165.50" y1="265" y2="419.9" stroke="#000" stroke-opacity="0.35" stroke-width="1" stroke-dasharray="1 1"/><line x1="217.20" x2="217.20" y1="265.5" y2="419.9" stroke="#000" stroke-opacity="0.38" stroke-width="1.7"/><line x1="217.20" x2="217.20" y1="265" y2="419.9" stroke="#000" stroke-opacity="0.35" stroke-width="1" stroke-dasharray="1 1"/><line x1="268.90" x2="268.90" y1="265.5" y2="419.9" stroke="#000" stroke-opacity="0.38" stroke-width="1.7"/><line x1="268.90" x2="268.90" y1="265" y2="419.9" stroke="#000" stroke-opacity="0.35" stroke-width="1" stroke-dasharray="1 1"/><line x1="320.60" x2="320.60" y1="265.5" y2="419.9" stroke="#000" stroke-opacity="0.38" stroke-width="1.7"/><line x1="320.60" x2="320.60" y1="265" y2="419.9" stroke="#000" stroke-opacity="0.35" stroke-width="1" stroke-dasharray="1 1"/><line x1="372.29" x2="372.29" y1="265.5" y2="419.9" stroke="#000" stroke-opacity="0.38" stroke-width="1.7"/><line x1="372.29" x2="372.29" y1="265" y2="419.9" stroke="#000" stroke-opacity="0.35" stroke-width="1" stroke-dasharray="1 1"/><line x1="423.99" x2="423.99" y1="265.5" y2="419.9" stroke="#000" stroke-opacity="0.38" stroke-width="1.7"/><line x1="423.99" x2="423.99" y1="265" y2="419.9" stroke="#000" stroke-opacity="0.35" stroke-width="1" stroke-dasharray="1 1"/><line x1="475.69" x2="475.69" y1="265.5" y2="419.9" stroke="#000" stroke-opacity="0.38" stroke-width="1.7"/><line x1="475.69" x2="475.69" y1="265" y2="419.9" stroke="#000" stroke-opacity="0.35" stroke-width="1" stroke-dasharray="1 1"/><line x1="527.39" x2="527.39" y1="265.5" y2="419.9" stroke="#000" stroke-opacity="0.38" stroke-width="1.7"/><line x1="527.39" x2="527.39" y1="265" y2="419.9" stroke="#000" stroke-opacity="0.35" stroke-width="1" stroke-dasharray="1 1"/><line x1="579.09" x2="579.09" y1="265.5" y2="419.9" stroke="#000" stroke-opacity="0.38" stroke-width="1.7"/><line x1="579.09" x2="579.09" y1="265" y2="419.9" stroke="#000" stroke-opacity="0.35" stroke-width="1" stroke-dasharray="1 1"/><line x1="630.79" x2="630.79" y1="265.5" y2="419.9" stroke="#000" stroke-opacity="0.38" stroke-width="1.7"/><line x1="630.79" x2="630.79" y1="265" y2="419.9" stroke="#000" stroke-opacity="0.35" stroke-width="1" stroke-dasharray="1 1"/><line x1="682.49" x2="682.49" y1="265.5" y2="419.9" stroke="#000" stroke-opacity="0.38" stroke-width="1.7"/><line x1="682.49" x2="682.49" y1="265" y2="419.9" stroke="#000" stroke-opacity="0.35" stroke-width="1" stroke-dasharray="1 1"/></g><g clip-path="url(#clip265)"><polyline points="62.10,363.74 79.33,372.36 96.57,356.79 113.80,366.73 131.03,379.42 148.27,351.40 165.50,307.45 182.73,310.81 199.96,327.45 217.20,378.11 234.43,358.11 251.66,316.20 268.90,361.70 286.13,373.08 303.36,359.79 320.60,368.05 337.83,358.11 355.06,394.99 372.29,389.72 389.53,369.37 406.76,376.43 423.99,381.10 441.23,353.08 458.46,382.66 475.69,389.36 492.93,399.42 510.16,371.64 527.39,354.40 544.62,337.75 561.86,370.68 579.09,353.32 596.32,327.09 613.56,345.77 630.79,349.37 648.02,338.71 665.25,373.44" fill="none" stroke="#1f77b4" stroke-width="2.6" stroke-dasharray="10.17 4.40" stroke-linejoin="round"/><rect x="57.20" y="358.84" width="9.8" height="9.8" fill="#1f77b4"/><rect x="74.43" y="367.46" width="9.8" height="9.8" fill="#1f77b4"/><rect x="91.67" y="351.89" width="9.8" height="9.8" fill="#1f77b4"/><rect x="108.90" y="361.83" width="9.8" height="9.8" fill="#1f77b4"/><rect x="126.13" y="374.52" width="9.8" height="9.8" fill="#1f77b4"/><rect x="143.37" y="346.50" width="9.8" height="9.8" fill="#1f77b4"/><rect x="160.60" y="302.55" width="9.8" height="9.8" fill="#1f77b4"/><rect x="177.83" y="305.91" width="9.8" height="9.8" fill="#1f77b4"/><rect x="195.06" y="322.55" width="9.8" height="9.8" fill="#1f77b4"/><rect x="212.30" y="373.21" width="9.8" height="9.8" fill="#1f77b4"/><rect x="229.53" y="353.21" width="9.8" height="9.8" fill="#1f77b4"/><rect x="246.76" y="311.30" width="9.8" height="9.8" fill="#1f77b4"/><rect x="264.00" y="356.80" width="9.8" height="9.8" fill="#1f77b4"/><rect x="281.23" y="368.18" width="9.8" height="9.8" fill="#1f77b4"/><rect x="298.46" y="354.89" width="9.8" height="9.8" fill="#1f77b4"/><rect x="315.70" y="363.15" width="9.8" height="9.8" fill="#1f77b4"/><rect x="332.93" y="353.21" width="9.8" height="9.8" fill="#1f77b4"/><rect x="350.16" y="390.09" width="9.8" height="9.8" fill="#1f77b4"/><rect x="367.39" y="384.82" width="9.8" height="9.8" fill="#1f77b4"/><rect x="384.63" y="364.47" width="9.8" height="9.8" fill="#1f77b4"/><rect x="401.86" y="371.53" width="9.8" height="9.8" fill="#1f77b4"/><rect x="419.09" y="376.20" width="9.8" height="9.8" fill="#1f77b4"/><rect x="436.33" y="348.18" width="9.8" height="9.8" fill="#1f77b4"/><rect x="453.56" y="377.76" width="9.8" height="9.8" fill="#1f77b4"/><rect x="470.79" y="384.46" width="9.8" height="9.8" fill="#1f77b4"/><rect x="488.03" y="394.52" width="9.8" height="9.8" fill="#1f77b4"/><rect x="505.26" y="366.74" width="9.8" height="9.8" fill="#1f77b4"/><rect x="522.49" y="349.50" width="9.8" height="9.8" fill="#1f77b4"/><rect x="539.72" y="332.85" width="9.8" height="9.8" fill="#1f77b4"/><rect x="556.96" y="365.78" width="9.8" height="9.8" fill="#1f77b4"/><rect x="574.19" y="348.42" width="9.8" height="9.8" fill="#1f77b4"/><rect x="591.42" y="322.19" width="9.8" height="9.8" fill="#1f77b4"/><rect x="608.66" y="340.87" width="9.8" height="9.8" fill="#1f77b4"/><rect x="625.89" y="344.47" width="9.8" height="9.8" fill="#1f77b4"/><rect x="643.12" y="333.81" width="9.8" height="9.8" fill="#1f77b4"/><rect x="660.36" y="368.54" width="9.8" height="9.8" fill="#1f77b4"/></g><rect x="62.1" y="28.15" width="620.4" height="154.3" fill="none" stroke="#777" stroke-width="1.5"/><line x1="58.60" x2="62.1" y1="182.50" y2="182.50" stroke="#222" stroke-width="1.1"/><line x1="58.60" x2="62.1" y1="161.92" y2="161.92" stroke="#222" stroke-width="1.1"/><line x1="58.60" x2="62.1" y1="141.34" y2="141.34" stroke="#222" stroke-width="1.1"/><line x1="58.60" x2="62.1" y1="120.76" y2="120.76" stroke="#222" stroke-width="1.1"/><line x1="58.60" x2="62.1" y1="100.18" y2="100.18" stroke="#222" stroke-width="1.1"/><line x1="58.60" x2="62.1" y1="79.60" y2="79.60" stroke="#222" stroke-width="1.1"/><line x1="58.60" x2="62.1" y1="59.02" y2="59.02" stroke="#222" stroke-width="1.1"/><line x1="58.60" x2="62.1" y1="38.44" y2="38.44" stroke="#222" stroke-width="1.1"/><line x1="62.10" x2="62.10" y1="182.5" y2="186.0" stroke="#222" stroke-width="1.1"/><rect x="61.50" y="21.1" width="1.2" height="1" fill="#ccc"/><line x1="113.80" x2="113.80" y1="182.5" y2="186.0" stroke="#222" stroke-width="1.1"/><rect x="113.20" y="21.1" width="1.2" height="1" fill="#ccc"/><line x1="165.50" x2="165.50" y1="182.5" y2="186.0" stroke="#222" stroke-width="1.1"/><rect x="164.90" y="21.1" width="1.2" height="1" fill="#ccc"/><line x1="217.20" x2="217.20" y1="182.5" y2="186.0" stroke="#222" stroke-width="1.1"/><rect x="216.60" y="21.1" width="1.2" height="1" fill="#ccc"/><line x1="268.90" x2="268.90" y1="182.5" y2="186.0" stroke="#222" stroke-width="1.1"/><rect x="268.30" y="21.1" width="1.2" height="1" fill="#ccc"/><line x1="320.60" x2="320.60" y1="182.5" y2="186.0" stroke="#222" stroke-width="1.1"/><rect x="320.00" y="21.1" width="1.2" height="1" fill="#ccc"/><line x1="372.29" x2="372.29" y1="182.5" y2="186.0" stroke="#222" stroke-width="1.1"/><rect x="371.69" y="21.1" width="1.2" height="1" fill="#ccc"/><line x1="423.99" x2="423.99" y1="182.5" y2="186.0" stroke="#222" stroke-width="1.1"/><rect x="423.39" y="21.1" width="1.2" height="1" fill="#ccc"/><line x1="475.69" x2="475.69" y1="182.5" y2="186.0" stroke="#222" stroke-width="1.1"/><rect x="475.09" y="21.1" width="1.2" height="1" fill="#ccc"/><line x1="527.39" x2="527.39" y1="182.5" y2="186.0" stroke="#222" stroke-width="1.1"/><rect x="526.79" y="21.1" width="1.2" height="1" fill="#ccc"/><line x1="579.09" x2="579.09" y1="182.5" y2="186.0" stroke="#222" stroke-width="1.1"/><rect x="578.49" y="21.1" width="1.2" height="1" fill="#ccc"/><line x1="630.79" x2="630.79" y1="182.5" y2="186.0" stroke="#222" stroke-width="1.1"/><rect x="630.19" y="21.1" width="1.2" height="1" fill="#ccc"/><g font-family="Liberation Sans, sans-serif" fill="#000"><text x="46.60" y="188.05" font-size="15.38" textLength="9.06" lengthAdjust="spacingAndGlyphs">0</text><text x="46.73" y="167.42" font-size="15.26" textLength="8.65" lengthAdjust="spacingAndGlyphs">1</text><text x="46.56" y="146.84" font-size="15.31" textLength="8.73" lengthAdjust="spacingAndGlyphs">2</text><text x="46.80" y="126.31" font-size="15.38" textLength="8.70" lengthAdjust="spacingAndGlyphs">3</text><text x="46.60" y="105.68" font-size="15.26" textLength="9.06" lengthAdjust="spacingAndGlyphs">4</text><text x="46.80" y="85.15" font-size="15.34" textLength="8.55" lengthAdjust="spacingAndGlyphs">5</text><text x="46.44" y="64.57" font-size="15.38" textLength="9.37" lengthAdjust="spacingAndGlyphs">6</text><text x="46.67" y="43.94" font-size="15.26" textLength="8.86" lengthAdjust="spacingAndGlyphs">7</text><text x="54.80" y="200.25" font-size="15.38" textLength="9.06" lengthAdjust="spacingAndGlyphs">0</text><text x="64.71" y="200.71" font-size="16.04" textLength="6.82" lengthAdjust="spacingAndGlyphs">°</text><text x="96.91" y="200.25" font-size="15.38" textLength="8.70" lengthAdjust="spacingAndGlyphs">3</text><text x="106.54" y="200.25" font-size="15.38" textLength="9.06" lengthAdjust="spacingAndGlyphs">0</text><text x="116.44" y="200.71" font-size="16.04" textLength="6.82" lengthAdjust="spacingAndGlyphs">°</text><text x="124.13" y="200.20" font-size="15.26" textLength="8.93" lengthAdjust="spacingAndGlyphs">E</text><text x="148.25" y="200.25" font-size="15.38" textLength="9.37" lengthAdjust="spacingAndGlyphs">6</text><text x="158.24" y="200.25" font-size="15.38" textLength="9.06" lengthAdjust="spacingAndGlyphs">0</text><text x="168.14" y="200.71" font-size="16.04" textLength="6.82" lengthAdjust="spacingAndGlyphs">°</text><text x="175.83" y="200.20" font-size="15.26" textLength="8.93" lengthAdjust="spacingAndGlyphs">E</text><text x="199.91" y="200.25" font-size="15.38" textLength="9.36" lengthAdjust="spacingAndGlyphs">9</text><text x="209.94" y="200.25" font-size="15.38" textLength="9.06" lengthAdjust="spacingAndGlyphs">0</text><text x="219.84" y="200.71" font-size="16.04" textLength="6.82" lengthAdjust="spacingAndGlyphs">°</text><text x="227.53" y="200.20" font-size="15.26" textLength="8.93" lengthAdjust="spacingAndGlyphs">E</text><text x="247.02" y="200.20" font-size="15.26" textLength="8.65" lengthAdjust="spacingAndGlyphs">1</text><text x="256.68" y="200.20" font-size="15.31" textLength="8.73" lengthAdjust="spacingAndGlyphs">2</text><text x="266.55" y="200.25" font-size="15.38" textLength="9.06" lengthAdjust="spacingAndGlyphs">0</text><text x="276.45" y="200.71" font-size="16.04" textLength="6.82" lengthAdjust="spacingAndGlyphs">°</text><text x="284.14" y="200.20" font-size="15.26" textLength="8.93" lengthAdjust="spacingAndGlyphs">E</text><text x="298.72" y="200.20" font-size="15.26" textLength="8.65" lengthAdjust="spacingAndGlyphs">1</text><text x="308.61" y="200.25" font-size="15.34" textLength="8.55" lengthAdjust="spacingAndGlyphs">5</text><text x="318.25" y="200.25" font-size="15.38" textLength="9.06" lengthAdjust="spacingAndGlyphs">0</text><text x="328.15" y="200.71" font-size="16.04" textLength="6.82" lengthAdjust="spacingAndGlyphs">°</text><text x="335.84" y="200.20" font-size="15.26" textLength="8.93" lengthAdjust="spacingAndGlyphs">E</text><text x="355.30" y="200.20" font-size="15.26" textLength="8.65" lengthAdjust="spacingAndGlyphs">1</text><text x="364.95" y="200.25" font-size="15.38" textLength="9.16" lengthAdjust="spacingAndGlyphs">8</text><text x="374.83" y="200.25" font-size="15.38" textLength="9.06" lengthAdjust="spacingAndGlyphs">0</text><text x="384.73" y="200.71" font-size="16.04" textLength="6.82" lengthAdjust="spacingAndGlyphs">°</text><text x="399.36" y="200.20" font-size="15.26" textLength="8.65" lengthAdjust="spacingAndGlyphs">1</text><text x="409.25" y="200.25" font-size="15.34" textLength="8.55" lengthAdjust="spacingAndGlyphs">5</text><text x="418.89" y="200.25" font-size="15.38" textLength="9.06" lengthAdjust="spacingAndGlyphs">0</text><text x="428.79" y="200.71" font-size="16.04" textLength="6.82" lengthAdjust="spacingAndGlyphs">°</text><text x="436.51" y="200.20" font-size="15.26" textLength="14.38" lengthAdjust="spacingAndGlyphs">W</text><text x="451.06" y="200.20" font-size="15.26" textLength="8.65" lengthAdjust="spacingAndGlyphs">1</text><text x="460.72" y="200.20" font-size="15.31" textLength="8.73" lengthAdjust="spacingAndGlyphs">2</text><text x="470.59" y="200.25" font-size="15.38" textLength="9.06" lengthAdjust="spacingAndGlyphs">0</text><text x="480.49" y="200.71" font-size="16.04" textLength="6.82" lengthAdjust="spacingAndGlyphs">°</text><text x="488.21" y="200.20" font-size="15.26" textLength="14.38" lengthAdjust="spacingAndGlyphs">W</text><text x="507.35" y="200.25" font-size="15.38" textLength="9.36" lengthAdjust="spacingAndGlyphs">9</text><text x="517.37" y="200.25" font-size="15.38" textLength="9.06" lengthAdjust="spacingAndGlyphs">0</text><text x="527.27" y="200.71" font-size="16.04" textLength="6.82" lengthAdjust="spacingAndGlyphs">°</text><text x="534.99" y="200.20" font-size="15.26" textLength="14.38" lengthAdjust="spacingAndGlyphs">W</text><text x="559.08" y="200.25" font-size="15.38" textLength="9.37" lengthAdjust="spacingAndGlyphs">6</text><text x="569.07" y="200.25" font-size="15.38" textLength="9.06" lengthAdjust="spacingAndGlyphs">0</text><text x="578.97" y="200.71" font-size="16.04" textLength="6.82" lengthAdjust="spacingAndGlyphs">°</text><text x="586.69" y="200.20" font-size="15.26" textLength="14.38" lengthAdjust="spacingAndGlyphs">W</text><text x="611.14" y="200.25" font-size="15.38" textLength="8.70" lengthAdjust="spacingAndGlyphs">3</text><text x="620.77" y="200.25" font-size="15.38" textLength="9.06" lengthAdjust="spacingAndGlyphs">0</text><text x="630.67" y="200.71" font-size="16.04" textLength="6.82" lengthAdjust="spacingAndGlyphs">°</text><text x="638.39" y="200.20" font-size="15.26" textLength="14.38" lengthAdjust="spacingAndGlyphs">W</text></g><rect x="62.1" y="265.5" width="620.4" height="154.4" fill="none" stroke="#777" stroke-width="1.5"/><line x1="58.60" x2="62.1" y1="419.90" y2="419.90" stroke="#222" stroke-width="1.1"/><line x1="58.60" x2="62.1" y1="395.95" y2="395.95" stroke="#222" stroke-width="1.1"/><line x1="58.60" x2="62.1" y1="372.00" y2="372.00" stroke="#222" stroke-width="1.1"/><line x1="58.60" x2="62.1" y1="348.05" y2="348.05" stroke="#222" stroke-width="1.1"/><line x1="58.60" x2="62.1" y1="324.10" y2="324.10" stroke="#222" stroke-width="1.1"/><line x1="58.60" x2="62.1" y1="300.15" y2="300.15" stroke="#222" stroke-width="1.1"/><line x1="58.60" x2="62.1" y1="276.20" y2="276.20" stroke="#222" stroke-width="1.1"/><line x1="62.10" x2="62.10" y1="419.9" y2="423.4" stroke="#222" stroke-width="1.1"/><rect x="61.50" y="258.5" width="1.2" height="1" fill="#ccc"/><line x1="113.80" x2="113.80" y1="419.9" y2="423.4" stroke="#222" stroke-width="1.1"/><rect x="113.20" y="258.5" width="1.2" height="1" fill="#ccc"/><line x1="165.50" x2="165.50" y1="419.9" y2="423.4" stroke="#222" stroke-width="1.1"/><rect x="164.90" y="258.5" width="1.2" height="1" fill="#ccc"/><line x1="217.20" x2="217.20" y1="419.9" y2="423.4" stroke="#222" stroke-width="1.1"/><rect x="216.60" y="258.5" width="1.2" height="1" fill="#ccc"/><line x1="268.90" x2="268.90" y1="419.9" y2="423.4" stroke="#222" stroke-width="1.1"/><rect x="268.30" y="258.5" width="1.2" height="1" fill="#ccc"/><line x1="320.60" x2="320.60" y1="419.9" y2="423.4" stroke="#222" stroke-width="1.1"/><rect x="320.00" y="258.5" width="1.2" height="1" fill="#ccc"/><line x1="372.29" x2="372.29" y1="419.9" y2="423.4" stroke="#222" stroke-width="1.1"/><rect x="371.69" y="258.5" width="1.2" height="1" fill="#ccc"/><line x1="423.99" x2="423.99" y1="419.9" y2="423.4" stroke="#222" stroke-width="1.1"/><rect x="423.39" y="258.5" width="1.2" height="1" fill="#ccc"/><line x1="475.69" x2="475.69" y1="419.9" y2="423.4" stroke="#222" stroke-width="1.1"/><rect x="475.09" y="258.5" width="1.2" height="1" fill="#ccc"/><line x1="527.39" x2="527.39" y1="419.9" y2="423.4" stroke="#222" stroke-width="1.1"/><rect x="526.79" y="258.5" width="1.2" height="1" fill="#ccc"/><line x1="579.09" x2="579.09" y1="419.9" y2="423.4" stroke="#222" stroke-width="1.1"/><rect x="578.49" y="258.5" width="1.2" height="1" fill="#ccc"/><line x1="630.79" x2="630.79" y1="419.9" y2="423.4" stroke="#222" stroke-width="1.1"/><rect x="630.19" y="258.5" width="1.2" height="1" fill="#ccc"/><g font-family="Liberation Sans, sans-serif" fill="#000"><text x="46.60" y="425.45" font-size="15.38" textLength="9.06" lengthAdjust="spacingAndGlyphs">0</text><text x="31.86" y="401.50" font-size="15.38" textLength="9.06" lengthAdjust="spacingAndGlyphs">0</text><text x="41.43" y="401.45" font-size="16.70" textLength="4.64" lengthAdjust="spacingAndGlyphs">.</text><text x="46.56" y="401.45" font-size="15.31" textLength="8.73" lengthAdjust="spacingAndGlyphs">2</text><text x="31.86" y="377.55" font-size="15.38" textLength="9.06" lengthAdjust="spacingAndGlyphs">0</text><text x="41.43" y="377.50" font-size="16.70" textLength="4.64" lengthAdjust="spacingAndGlyphs">.</text><text x="46.60" y="377.50" font-size="15.26" textLength="9.06" lengthAdjust="spacingAndGlyphs">4</text><text x="31.86" y="353.60" font-size="15.38" textLength="9.06" lengthAdjust="spacingAndGlyphs">0</text><text x="41.43" y="353.55" font-size="16.70" textLength="4.64" lengthAdjust="spacingAndGlyphs">.</text><text x="46.44" y="353.60" font-size="15.38" textLength="9.37" lengthAdjust="spacingAndGlyphs">6</text><text x="31.86" y="329.65" font-size="15.38" textLength="9.06" lengthAdjust="spacingAndGlyphs">0</text><text x="41.43" y="329.60" font-size="16.70" textLength="4.64" lengthAdjust="spacingAndGlyphs">.</text><text x="46.55" y="329.65" font-size="15.38" textLength="9.16" lengthAdjust="spacingAndGlyphs">8</text><text x="41.82" y="305.65" font-size="15.26" textLength="8.65" lengthAdjust="spacingAndGlyphs">1</text><text x="51.26" y="305.65" font-size="16.70" textLength="4.64" lengthAdjust="spacingAndGlyphs">.</text><text x="31.99" y="281.70" font-size="15.26" textLength="8.65" lengthAdjust="spacingAndGlyphs">1</text><text x="41.43" y="281.70" font-size="16.70" textLength="4.64" lengthAdjust="spacingAndGlyphs">.</text><text x="46.56" y="281.70" font-size="15.31" textLength="8.73" lengthAdjust="spacingAndGlyphs">2</text><text x="54.80" y="437.65" font-size="15.38" textLength="9.06" lengthAdjust="spacingAndGlyphs">0</text><text x="64.71" y="438.11" font-size="16.04" textLength="6.82" lengthAdjust="spacingAndGlyphs">°</text><text x="96.91" y="437.65" font-size="15.38" textLength="8.70" lengthAdjust="spacingAndGlyphs">3</text><text x="106.54" y="437.65" font-size="15.38" textLength="9.06" lengthAdjust="spacingAndGlyphs">0</text><text x="116.44" y="438.11" font-size="16.04" textLength="6.82" lengthAdjust="spacingAndGlyphs">°</text><text x="124.13" y="437.60" font-size="15.26" textLength="8.93" lengthAdjust="spacingAndGlyphs">E</text><text x="148.25" y="437.65" font-size="15.38" textLength="9.37" lengthAdjust="spacingAndGlyphs">6</text><text x="158.24" y="437.65" font-size="15.38" textLength="9.06" lengthAdjust="spacingAndGlyphs">0</text><text x="168.14" y="438.11" font-size="16.04" textLength="6.82" lengthAdjust="spacingAndGlyphs">°</text><text x="175.83" y="437.60" font-size="15.26" textLength="8.93" lengthAdjust="spacingAndGlyphs">E</text><text x="199.91" y="437.65" font-size="15.38" textLength="9.36" lengthAdjust="spacingAndGlyphs">9</text><text x="209.94" y="437.65" font-size="15.38" textLength="9.06" lengthAdjust="spacingAndGlyphs">0</text><text x="219.84" y="438.11" font-size="16.04" textLength="6.82" lengthAdjust="spacingAndGlyphs">°</text><text x="227.53" y="437.60" font-size="15.26" textLength="8.93" lengthAdjust="spacingAndGlyphs">E</text><text x="247.02" y="437.60" font-size="15.26" textLength="8.65" lengthAdjust="spacingAndGlyphs">1</text><text x="256.68" y="437.60" font-size="15.31" textLength="8.73" lengthAdjust="spacingAndGlyphs">2</text><text x="266.55" y="437.65" font-size="15.38" textLength="9.06" lengthAdjust="spacingAndGlyphs">0</text><text x="276.45" y="438.11" font-size="16.04" textLength="6.82" lengthAdjust="spacingAndGlyphs">°</text><text x="284.14" y="437.60" font-size="15.26" textLength="8.93" lengthAdjust="spacingAndGlyphs">E</text><text x="298.72" y="437.60" font-size="15.26" textLength="8.65" lengthAdjust="spacingAndGlyphs">1</text><text x="308.61" y="437.65" font-size="15.34" textLength="8.55" lengthAdjust="spacingAndGlyphs">5</text><text x="318.25" y="437.65" font-size="15.38" textLength="9.06" lengthAdjust="spacingAndGlyphs">0</text><text x="328.15" y="438.11" font-size="16.04" textLength="6.82" lengthAdjust="spacingAndGlyphs">°</text><text x="335.84" y="437.60" font-size="15.26" textLength="8.93" lengthAdjust="spacingAndGlyphs">E</text><text x="355.30" y="437.60" font-size="15.26" textLength="8.65" lengthAdjust="spacingAndGlyphs">1</text><text x="364.95" y="437.65" font-size="15.38" textLength="9.16" lengthAdjust="spacingAndGlyphs">8</text><text x="374.83" y="437.65" font-size="15.38" textLength="9.06" lengthAdjust="spacingAndGlyphs">0</text><text x="384.73" y="438.11" font-size="16.04" textLength="6.82" lengthAdjust="spacingAndGlyphs">°</text><text x="399.36" y="437.60" font-size="15.26" textLength="8.65" lengthAdjust="spacingAndGlyphs">1</text><text x="409.25" y="437.65" font-size="15.34" textLength="8.55" lengthAdjust="spacingAndGlyphs">5</text><text x="418.89" y="437.65" font-size="15.38" textLength="9.06" lengthAdjust="spacingAndGlyphs">0</text><text x="428.79" y="438.11" font-size="16.04" textLength="6.82" lengthAdjust="spacingAndGlyphs">°</text><text x="436.51" y="437.60" font-size="15.26" textLength="14.38" lengthAdjust="spacingAndGlyphs">W</text><text x="451.06" y="437.60" font-size="15.26" textLength="8.65" lengthAdjust="spacingAndGlyphs">1</text><text x="460.72" y="437.60" font-size="15.31" textLength="8.73" lengthAdjust="spacingAndGlyphs">2</text><text x="470.59" y="437.65" font-size="15.38" textLength="9.06" lengthAdjust="spacingAndGlyphs">0</text><text x="480.49" y="438.11" font-size="16.04" textLength="6.82" lengthAdjust="spacingAndGlyphs">°</text><text x="488.21" y="437.60" font-size="15.26" textLength="14.38" lengthAdjust="spacingAndGlyphs">W</text><text x="507.35" y="437.65" font-size="15.38" textLength="9.36" lengthAdjust="spacingAndGlyphs">9</text><text x="517.37" y="437.65" font-size="15.38" textLength="9.06" lengthAdjust="spacingAndGlyphs">0</text><text x="527.27" y="438.11" font-size="16.04" textLength="6.82" lengthAdjust="spacingAndGlyphs">°</text><text x="534.99" y="437.60" font-size="15.26" textLength="14.38" lengthAdjust="spacingAndGlyphs">W</text><text x="559.08" y="437.65" font-size="15.38" textLength="9.37" lengthAdjust="spacingAndGlyphs">6</text><text x="569.07" y="437.65" font-size="15.38" textLength="9.06" lengthAdjust="spacingAndGlyphs">0</text><text x="578.97" y="438.11" font-size="16.04" textLength="6.82" lengthAdjust="spacingAndGlyphs">°</text><text x="586.69" y="437.60" font-size="15.26" textLength="14.38" lengthAdjust="spacingAndGlyphs">W</text><text x="611.14" y="437.65" font-size="15.38" textLength="8.70" lengthAdjust="spacingAndGlyphs">3</text><text x="620.77" y="437.65" font-size="15.38" textLength="9.06" lengthAdjust="spacingAndGlyphs">0</text><text x="630.67" y="438.11" font-size="16.04" textLength="6.82" lengthAdjust="spacingAndGlyphs">°</text><text x="638.39" y="437.60" font-size="15.26" textLength="14.38" lengthAdjust="spacingAndGlyphs">W</text></g><g font-family="Liberation Sans, sans-serif" fill="#000"><text x="376.88" y="16.70" font-size="20.2" textLength="19.26" lengthAdjust="spacingAndGlyphs">a)</text><text x="377.63" y="254.70" font-size="20.2" textLength="20.29" lengthAdjust="spacingAndGlyphs">b)</text></g><g font-family="Liberation Sans, sans-serif" fill="#000" transform="translate(38.0,137.5) rotate(-90)"><text x="-1.22" y="0.00" font-size="16.5" textLength="65.44" lengthAdjust="spacingAndGlyphs">rel. time</text></g><g font-family="Liberation Sans, sans-serif" fill="#000" transform="translate(0,417.05) rotate(-90)"><text x="-0.86" y="13.70" font-size="15.98" textLength="14.56" lengthAdjust="spacingAndGlyphs">m</text><text x="15.04" y="13.64" font-size="15.88" textLength="6.71" lengthAdjust="spacingAndGlyphs">a</text><text x="24.08" y="13.70" font-size="16.28" textLength="7.74" lengthAdjust="spacingAndGlyphs">x</text><text x="15.40" y="24.40" font-size="10.63" textLength="2.04" lengthAdjust="spacingAndGlyphs" font-style="italic">i</text><text x="32.77" y="12.32" font-size="14.38" textLength="4.19" lengthAdjust="spacingAndGlyphs">[</text><text x="39.57" y="12.32" font-size="14.38" textLength="3.64" lengthAdjust="spacingAndGlyphs">(</text><text x="44.57" y="13.65" font-size="15.70" textLength="4.79" lengthAdjust="spacingAndGlyphs" font-style="italic" stroke="#fff" stroke-width="0.25">t</text><text x="51.19" y="15.30" font-size="10.76" textLength="2.14" lengthAdjust="spacingAndGlyphs" font-style="italic">i</text><text x="57.70" y="14.00" font-size="16.00" textLength="11.30" lengthAdjust="spacingAndGlyphs">−</text><text x="73.70" y="13.65" font-size="15.70" textLength="5.20" lengthAdjust="spacingAndGlyphs" font-style="italic" stroke="#fff" stroke-width="0.25">t</text><text x="80.02" y="15.30" font-size="10.76" textLength="1.75" lengthAdjust="spacingAndGlyphs" font-style="italic">i</text><text x="85.63" y="15.94" font-size="11.85" textLength="7.45" lengthAdjust="spacingAndGlyphs">+</text><text x="96.78" y="15.60" font-size="11.19" textLength="4.90" lengthAdjust="spacingAndGlyphs">1</text><text x="104.19" y="12.32" font-size="14.38" textLength="3.64" lengthAdjust="spacingAndGlyphs">)</text><text x="109.35" y="14.74" font-size="16.61" textLength="4.60" lengthAdjust="spacingAndGlyphs">/</text><text x="114.27" y="13.65" font-size="15.70" textLength="5.41" lengthAdjust="spacingAndGlyphs" font-style="italic" stroke="#fff" stroke-width="0.25">t</text><text x="121.69" y="15.10" font-size="9.80" textLength="2.24" lengthAdjust="spacingAndGlyphs" font-style="italic">i</text><text x="126.59" y="15.94" font-size="11.85" textLength="6.73" lengthAdjust="spacingAndGlyphs">+</text><text x="137.41" y="15.60" font-size="11.19" textLength="5.42" lengthAdjust="spacingAndGlyphs">1</text><text x="146.14" y="12.54" font-size="14.27" textLength="3.91" lengthAdjust="spacingAndGlyphs">]</text></g></svg></body></html>
